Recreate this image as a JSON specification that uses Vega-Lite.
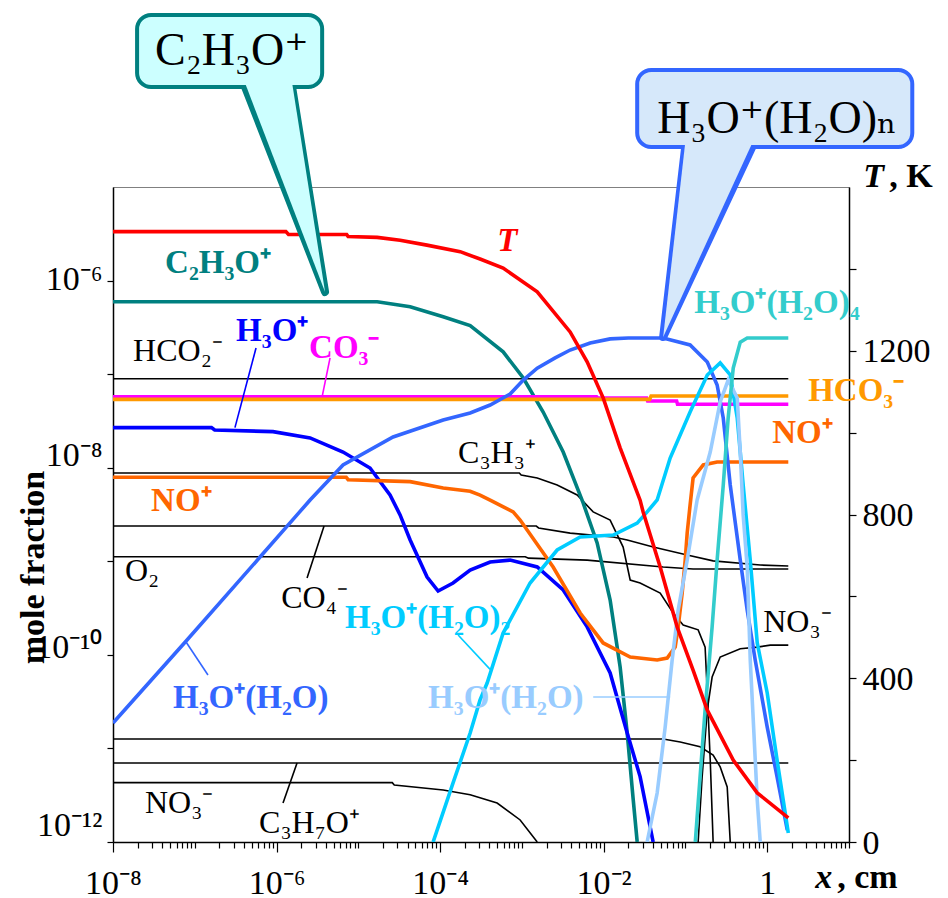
{
  "$schema": "https://vega.github.io/schema/vega-lite/v6.json",
  "width": 736,
  "height": 655,
  "autosize": {"type": "none"},
  "padding": {"left": 113, "top": 187, "right": 99, "bottom": 56},
  "background": "white",
  "config": {
    "font": "Liberation Serif",
    "view": {"stroke": "#808080", "strokeWidth": 1},
    "axis": {"grid": false, "domainColor": "black", "tickColor": "black", "labelColor": "black", "titleColor": "black", "domainWidth": 1.5, "tickWidth": 1.2, "labelOverlap": false, "labelFlush": false}
  },
  "datasets": {
    "curves": [
      {"s": "HCO2-", "x": 1e-8, "y": 8.93e-8}, {"s": "HCO2-", "x": 1.81, "y": 8.93e-8},
      {"s": "C3H3+", "x": 1e-8, "y": 8.79e-9}, {"s": "C3H3+", "x": 9.3e-4, "y": 8.79e-9}, {"s": "C3H3+", "x": 9.8e-4, "y": 8.36e-9}, {"s": "C3H3+", "x": 1.54e-3, "y": 7.76e-9}, {"s": "C3H3+", "x": 2.7e-3, "y": 6.53e-9}, {"s": "C3H3+", "x": 4.74e-3, "y": 5.11e-9}, {"s": "C3H3+", "x": 7.44e-3, "y": 3.37e-9}, {"s": "C3H3+", "x": 1.2e-2, "y": 2.76e-9}, {"s": "C3H3+", "x": 1.73e-2, "y": 1.42e-9}, {"s": "C3H3+", "x": 2.11e-2, "y": 6.31e-10}, {"s": "C3H3+", "x": 2.79e-2, "y": 5.86e-10}, {"s": "C3H3+", "x": 4.91e-2, "y": 4.58e-10}, {"s": "C3H3+", "x": 7.08e-2, "y": 2.8e-10}, {"s": "C3H3+", "x": 9.38e-2, "y": 2.08e-10}, {"s": "C3H3+", "x": 0.143, "y": 1.85e-10}, {"s": "C3H3+", "x": 0.174, "y": 1.21e-10}, {"s": "C3H3+", "x": 0.185, "y": 3.91e-11}, {"s": "C3H3+", "x": 0.201, "y": 7.52e-12}, {"s": "C3H3+", "x": 0.218, "y": 1e-12},
      {"s": "CO4-", "x": 1e-8, "y": 2.38e-9}, {"s": "CO4-", "x": 1.5e-3, "y": 2.38e-9}, {"s": "CO4-", "x": 1.6e-3, "y": 2.27e-9}, {"s": "CO4-", "x": 3.89e-3, "y": 2.0e-9}, {"s": "CO4-", "x": 1.31e-2, "y": 1.82e-9}, {"s": "CO4-", "x": 1.94e-2, "y": 1.69e-9}, {"s": "CO4-", "x": 4.03e-2, "y": 1.42e-9}, {"s": "CO4-", "x": 0.105, "y": 1.17e-9}, {"s": "CO4-", "x": 0.218, "y": 1.01e-9}, {"s": "CO4-", "x": 0.821, "y": 9.12e-10}, {"s": "CO4-", "x": 1.81, "y": 8.91e-10},
      {"s": "O2", "x": 1e-8, "y": 1.12e-9}, {"s": "O2", "x": 1.1e-3, "y": 1.12e-9}, {"s": "O2", "x": 1.2e-3, "y": 1.08e-9}, {"s": "O2", "x": 6.28e-3, "y": 1.03e-9}, {"s": "O2", "x": 5.34e-2, "y": 8.69e-10}, {"s": "O2", "x": 0.124, "y": 8.28e-10}, {"s": "O2", "x": 1.81, "y": 8.28e-10},
      {"s": "other", "x": 1e-8, "y": 1.26e-11}, {"s": "other", "x": 5.34e-2, "y": 1.26e-11}, {"s": "other", "x": 8.63e-2, "y": 1.17e-11}, {"s": "other", "x": 0.151, "y": 1.04e-11}, {"s": "other", "x": 0.218, "y": 8.51e-12}, {"s": "other", "x": 0.266, "y": 6.34e-12}, {"s": "other", "x": 0.324, "y": 3.87e-12}, {"s": "other", "x": 0.353, "y": 1e-12},
      {"s": "C3H7O+", "x": 1e-8, "y": 6.98e-12}, {"s": "C3H7O+", "x": 1.81, "y": 6.98e-12},
      {"s": "NO3-", "x": 1e-8, "y": 4.31e-12}, {"s": "NO3-", "x": 2.6e-5, "y": 4.31e-12}, {"s": "NO3-", "x": 2.75e-5, "y": 4.06e-12}, {"s": "NO3-", "x": 1.09e-4, "y": 3.6e-12}, {"s": "NO3-", "x": 2.33e-4, "y": 3.2e-12}, {"s": "NO3-", "x": 4.98e-4, "y": 2.61e-12}, {"s": "NO3-", "x": 9.52e-4, "y": 1.72e-12}, {"s": "NO3-", "x": 1.54e-3, "y": 1e-12},
      {"s": "NO3-b", "x": 0.143, "y": 1e-12}, {"s": "NO3-b", "x": 0.16, "y": 4.96e-12}, {"s": "NO3-b", "x": 0.185, "y": 2.58e-11}, {"s": "NO3-b", "x": 0.212, "y": 5.79e-11}, {"s": "NO3-b", "x": 0.266, "y": 9.48e-11}, {"s": "NO3-b", "x": 0.468, "y": 1.16e-10}, {"s": "NO3-b", "x": 0.755, "y": 1.21e-10}, {"s": "NO3-b", "x": 1.09, "y": 1.27e-10}, {"s": "NO3-b", "x": 1.81, "y": 1.27e-10},
      {"s": "C2H3O+", "x": 1e-8, "y": 5.94e-7}, {"s": "C2H3O+", "x": 1.7e-5, "y": 5.94e-7}, {"s": "C2H3O+", "x": 4.3e-5, "y": 5.26e-7}, {"s": "C2H3O+", "x": 1.09e-4, "y": 4.11e-7}, {"s": "C2H3O+", "x": 2.33e-4, "y": 3.3e-7}, {"s": "C2H3O+", "x": 5.9e-4, "y": 1.73e-7}, {"s": "C2H3O+", "x": 1.04e-3, "y": 9.1e-8}, {"s": "C2H3O+", "x": 1.82e-3, "y": 3.94e-8}, {"s": "C2H3O+", "x": 3.2e-3, "y": 1.47e-8}, {"s": "C2H3O+", "x": 5.61e-3, "y": 4.2e-9}, {"s": "C2H3O+", "x": 8.32e-3, "y": 1.57e-9}, {"s": "C2H3O+", "x": 1.2e-2, "y": 3.85e-10}, {"s": "C2H3O+", "x": 1.59e-2, "y": 7.41e-11}, {"s": "C2H3O+", "x": 1.94e-2, "y": 1.46e-11}, {"s": "C2H3O+", "x": 2.3e-2, "y": 2.81e-12}, {"s": "C2H3O+", "x": 2.57e-2, "y": 1e-12},
      {"s": "H3O+", "x": 1e-8, "y": 2.68e-8}, {"s": "H3O+", "x": 1.6e-7, "y": 2.68e-8}, {"s": "H3O+", "x": 1.75e-7, "y": 2.53e-8}, {"s": "H3O+", "x": 9.05e-7, "y": 2.43e-8}, {"s": "H3O+", "x": 2.57e-6, "y": 2.08e-8}, {"s": "H3O+", "x": 6.5e-6, "y": 1.47e-8}, {"s": "H3O+", "x": 1.39e-5, "y": 9.93e-9}, {"s": "H3O+", "x": 2.44e-5, "y": 5.11e-9}, {"s": "H3O+", "x": 3.24e-5, "y": 3.13e-9}, {"s": "H3O+", "x": 4.3e-5, "y": 1.69e-9}, {"s": "H3O+", "x": 6.93e-5, "y": 6.79e-10}, {"s": "H3O+", "x": 9.45e-5, "y": 4.81e-10}, {"s": "H3O+", "x": 1.44e-4, "y": 5.86e-10}, {"s": "H3O+", "x": 2.33e-4, "y": 8.07e-10}, {"s": "H3O+", "x": 4.09e-4, "y": 9.82e-10}, {"s": "H3O+", "x": 7.18e-4, "y": 1.03e-9}, {"s": "H3O+", "x": 1.54e-3, "y": 8.69e-10}, {"s": "H3O+", "x": 3.2e-3, "y": 4.93e-10}, {"s": "H3O+", "x": 6.28e-3, "y": 1.99e-10}, {"s": "H3O+", "x": 1.2e-2, "y": 6.4e-11}, {"s": "H3O+", "x": 1.94e-2, "y": 1.46e-11}, {"s": "H3O+", "x": 2.79e-2, "y": 5e-12}, {"s": "H3O+", "x": 4.03e-2, "y": 1e-12},
      {"s": "CO3-", "x": 1e-8, "y": 5.74e-8}, {"s": "CO3-", "x": 8.2e-3, "y": 5.74e-8}, {"s": "CO3-", "x": 8.5e-3, "y": 5.56e-8}, {"s": "CO3-", "x": 3.35e-2, "y": 5.56e-8}, {"s": "CO3-", "x": 3.45e-2, "y": 5.16e-8}, {"s": "CO3-", "x": 7.8e-2, "y": 5.16e-8}, {"s": "CO3-", "x": 8.0e-2, "y": 4.77e-8}, {"s": "CO3-", "x": 1.81, "y": 4.77e-8},
      {"s": "HCO3-", "x": 1e-8, "y": 5.38e-8}, {"s": "HCO3-", "x": 3.65e-2, "y": 5.38e-8}, {"s": "HCO3-", "x": 3.8e-2, "y": 5.83e-8}, {"s": "HCO3-", "x": 1.81, "y": 5.83e-8},
      {"s": "NO+", "x": 1e-8, "y": 7.91e-9}, {"s": "NO+", "x": 7.1e-6, "y": 7.91e-9}, {"s": "NO+", "x": 7.5e-6, "y": 7.45e-9}, {"s": "NO+", "x": 4.3e-5, "y": 7.1e-9}, {"s": "NO+", "x": 1.09e-4, "y": 6.07e-9}, {"s": "NO+", "x": 2.33e-4, "y": 5.6e-9}, {"s": "NO+", "x": 3.08e-4, "y": 5.1e-9}, {"s": "NO+", "x": 4.09e-4, "y": 4.5e-9}, {"s": "NO+", "x": 7.82e-4, "y": 3.37e-9}, {"s": "NO+", "x": 9.52e-4, "y": 2.76e-9}, {"s": "NO+", "x": 2.41e-3, "y": 8.69e-10}, {"s": "NO+", "x": 5.16e-3, "y": 2.8e-10}, {"s": "NO+", "x": 9.86e-3, "y": 1.34e-10}, {"s": "NO+", "x": 2.11e-2, "y": 9.48e-11}, {"s": "NO+", "x": 4.51e-2, "y": 8.81e-11}, {"s": "NO+", "x": 5.98e-2, "y": 9.25e-11}, {"s": "NO+", "x": 7.49e-2, "y": 1.21e-10}, {"s": "NO+", "x": 8.15e-2, "y": 1.99e-10}, {"s": "NO+", "x": 9.12e-2, "y": 4.58e-10}, {"s": "NO+", "x": 9.93e-2, "y": 1.03e-9}, {"s": "NO+", "x": 0.105, "y": 2.0e-9}, {"s": "NO+", "x": 0.114, "y": 4.0e-9}, {"s": "NO+", "x": 0.124, "y": 7.76e-9}, {"s": "NO+", "x": 0.165, "y": 1.07e-8}, {"s": "NO+", "x": 0.244, "y": 1.15e-8}, {"s": "NO+", "x": 1.81, "y": 1.15e-8},
      {"s": "H3O+(H2O)", "x": 1e-8, "y": 1.87e-11}, {"s": "H3O+(H2O)", "x": 8.04e-8, "y": 1.44e-10}, {"s": "H3O+(H2O)", "x": 6.28e-7, "y": 1.11e-9}, {"s": "H3O+(H2O)", "x": 1.78e-6, "y": 3.13e-9}, {"s": "H3O+(H2O)", "x": 2.57e-6, "y": 4.52e-9}, {"s": "H3O+(H2O)", "x": 6.5e-6, "y": 1.07e-8}, {"s": "H3O+(H2O)", "x": 2.66e-5, "y": 2.13e-8}, {"s": "H3O+(H2O)", "x": 1.09e-4, "y": 3.24e-8}, {"s": "H3O+(H2O)", "x": 2.33e-4, "y": 3.85e-8}, {"s": "H3O+(H2O)", "x": 4.09e-4, "y": 4.68e-8}, {"s": "H3O+(H2O)", "x": 7.18e-4, "y": 6.14e-8}, {"s": "H3O+(H2O)", "x": 1.04e-3, "y": 8.65e-8}, {"s": "H3O+(H2O)", "x": 1.54e-3, "y": 1.16e-7}, {"s": "H3O+(H2O)", "x": 2.55e-3, "y": 1.49e-7}, {"s": "H3O+(H2O)", "x": 3.89e-3, "y": 1.81e-7}, {"s": "H3O+(H2O)", "x": 6.84e-3, "y": 2.15e-7}, {"s": "H3O+(H2O)", "x": 1.2e-2, "y": 2.38e-7}, {"s": "H3O+(H2O)", "x": 2.0e-2, "y": 2.43e-7}, {"s": "H3O+(H2O)", "x": 5.34e-2, "y": 2.43e-7}, {"s": "H3O+(H2O)", "x": 0.114, "y": 2.05e-7}, {"s": "H3O+(H2O)", "x": 0.185, "y": 1.35e-7}, {"s": "H3O+(H2O)", "x": 0.244, "y": 7.66e-8}, {"s": "H3O+(H2O)", "x": 0.29, "y": 3.4e-8}, {"s": "H3O+(H2O)", "x": 0.353, "y": 6.53e-9}, {"s": "H3O+(H2O)", "x": 0.468, "y": 1.03e-9}, {"s": "H3O+(H2O)", "x": 0.569, "y": 3.01e-10}, {"s": "H3O+(H2O)", "x": 0.713, "y": 8.81e-11}, {"s": "H3O+(H2O)", "x": 1.0, "y": 1.69e-11}, {"s": "H3O+(H2O)", "x": 1.32, "y": 4.96e-12}, {"s": "H3O+(H2O)", "x": 1.76, "y": 1.34e-12},
      {"s": "H3O+(H2O)2", "x": 8.21e-5, "y": 1e-12}, {"s": "H3O+(H2O)2", "x": 1.44e-4, "y": 4.28e-12}, {"s": "H3O+(H2O)2", "x": 2.33e-4, "y": 1.46e-11}, {"s": "H3O+(H2O)2", "x": 3.08e-4, "y": 3.3e-11}, {"s": "H3O+(H2O)2", "x": 3.76e-4, "y": 5.0e-11}, {"s": "H3O+(H2O)2", "x": 5.9e-4, "y": 1.71e-10}, {"s": "H3O+(H2O)2", "x": 1.26e-3, "y": 5.86e-10}, {"s": "H3O+(H2O)2", "x": 2.7e-3, "y": 1.32e-9}, {"s": "H3O+(H2O)2", "x": 5.16e-3, "y": 1.82e-9}, {"s": "H3O+(H2O)2", "x": 1.31e-2, "y": 1.91e-9}, {"s": "H3O+(H2O)2", "x": 2.57e-2, "y": 2.56e-9}, {"s": "H3O+(H2O)2", "x": 3.4e-2, "y": 3.37e-9}, {"s": "H3O+(H2O)2", "x": 4.51e-2, "y": 4.52e-9}, {"s": "H3O+(H2O)2", "x": 6.5e-2, "y": 1.27e-8}, {"s": "H3O+(H2O)2", "x": 0.114, "y": 3.94e-8}, {"s": "H3O+(H2O)2", "x": 0.185, "y": 9.8e-8}, {"s": "H3O+(H2O)2", "x": 0.266, "y": 1.32e-7}, {"s": "H3O+(H2O)2", "x": 0.353, "y": 9.8e-8}, {"s": "H3O+(H2O)2", "x": 0.43, "y": 3.4e-8}, {"s": "H3O+(H2O)2", "x": 0.508, "y": 6.53e-9}, {"s": "H3O+(H2O)2", "x": 0.62, "y": 1.03e-9}, {"s": "H3O+(H2O)2", "x": 0.755, "y": 1.34e-10}, {"s": "H3O+(H2O)2", "x": 1.0, "y": 3.91e-11}, {"s": "H3O+(H2O)2", "x": 1.32, "y": 7.52e-12}, {"s": "H3O+(H2O)2", "x": 1.81, "y": 1.25e-12},
      {"s": "H3O+(H2O)3", "x": 3.4e-2, "y": 1e-12}, {"s": "H3O+(H2O)3", "x": 4.51e-2, "y": 3.34e-12}, {"s": "H3O+(H2O)3", "x": 5.65e-2, "y": 1.69e-11}, {"s": "H3O+(H2O)3", "x": 6.88e-2, "y": 8.81e-11}, {"s": "H3O+(H2O)3", "x": 8.15e-2, "y": 3.01e-10}, {"s": "H3O+(H2O)3", "x": 0.105, "y": 1.03e-9}, {"s": "H3O+(H2O)3", "x": 0.139, "y": 4.52e-9}, {"s": "H3O+(H2O)3", "x": 0.201, "y": 1.47e-8}, {"s": "H3O+(H2O)3", "x": 0.266, "y": 5.04e-8}, {"s": "H3O+(H2O)3", "x": 0.333, "y": 8.65e-8}, {"s": "H3O+(H2O)3", "x": 0.43, "y": 5.56e-8}, {"s": "H3O+(H2O)3", "x": 0.468, "y": 1.47e-8}, {"s": "H3O+(H2O)3", "x": 0.508, "y": 3.13e-9}, {"s": "H3O+(H2O)3", "x": 0.569, "y": 8.69e-10}, {"s": "H3O+(H2O)3", "x": 0.62, "y": 8.81e-11}, {"s": "H3O+(H2O)3", "x": 0.656, "y": 3.3e-11}, {"s": "H3O+(H2O)3", "x": 0.755, "y": 2.81e-12}, {"s": "H3O+(H2O)3", "x": 0.821, "y": 1e-12},
      {"s": "H3O+(H2O)4", "x": 0.132, "y": 1e-12}, {"s": "H3O+(H2O)4", "x": 0.151, "y": 4.96e-12}, {"s": "H3O+(H2O)4", "x": 0.174, "y": 2.58e-11}, {"s": "H3O+(H2O)4", "x": 0.212, "y": 1.99e-10}, {"s": "H3O+(H2O)4", "x": 0.244, "y": 1.03e-9}, {"s": "H3O+(H2O)4", "x": 0.29, "y": 6.53e-9}, {"s": "H3O+(H2O)4", "x": 0.333, "y": 3.4e-8}, {"s": "H3O+(H2O)4", "x": 0.384, "y": 1.16e-7}, {"s": "H3O+(H2O)4", "x": 0.468, "y": 2.2e-7}, {"s": "H3O+(H2O)4", "x": 0.569, "y": 2.43e-7}, {"s": "H3O+(H2O)4", "x": 1.81, "y": 2.43e-7}
    ],
    "temperature": [
      {"x": 1e-8, "T": 1491}, {"x": 1.3e-6, "T": 1491}, {"x": 1.4e-6, "T": 1484}, {"x": 7.2e-6, "T": 1484}, {"x": 7.5e-6, "T": 1479}, {"x": 1.7e-5, "T": 1477}, {"x": 3.24e-5, "T": 1470}, {"x": 6.9e-5, "T": 1458}, {"x": 1.76e-4, "T": 1442}, {"x": 3.08e-4, "T": 1424}, {"x": 5.9e-4, "T": 1402}, {"x": 1.54e-3, "T": 1344}, {"x": 3.89e-3, "T": 1246}, {"x": 6.28e-3, "T": 1173}, {"x": 9.86e-3, "T": 1085}, {"x": 1.59e-2, "T": 963}, {"x": 2.79e-2, "T": 835}, {"x": 3.04e-2, "T": 806}, {"x": 4.91e-2, "T": 672}, {"x": 7.93e-2, "T": 525}, {"x": 0.124, "T": 420}, {"x": 0.185, "T": 322}, {"x": 0.384, "T": 200}, {"x": 0.755, "T": 120}, {"x": 1.81, "T": 59}
    ],
    "labels": [
      {"s": "C2H3O+", "t": "C₂H₃O⁺", "x": 4.33e-8, "y": 1.21e-6},
      {"s": "H3O+", "t": "H₃O⁺", "x": 3.2e-7, "y": 2.26e-7},
      {"s": "CO3-", "t": "CO₃⁻", "x": 2.5e-6, "y": 1.49e-7},
      {"s": "NO+", "t": "NO⁺", "x": 2.92e-8, "y": 3.44e-9},
      {"s": "H3O+(H2O)2", "t": "H₃O⁺(H₂O)₂", "x": 6.88e-6, "y": 1.94e-10},
      {"s": "H3O+(H2O)", "t": "H₃O⁺(H₂O)", "x": 5.42e-8, "y": 2.7e-11},
      {"s": "H3O+(H2O)3", "t": "H₃O⁺(H₂O)", "x": 7.13e-5, "y": 2.7e-11},
      {"s": "H3O+(H2O)4", "t": "H₃O⁺(H₂O)₄", "x": 0.128, "y": 4.5e-7},
      {"s": "HCO3-", "t": "HCO₃⁻", "x": 3.17, "y": 5.16e-8},
      {"s": "NO+", "t": "NO⁺", "x": 1.15, "y": 1.84e-8},
      {"s": "HCO2-", "t": "HCO₂⁻", "x": 1.76e-8, "y": 1.38e-7},
      {"s": "C3H3+", "t": "C₃H₃⁺", "x": 1.66e-4, "y": 1.12e-8},
      {"s": "O2", "t": "O₂", "x": 1.4e-8, "y": 6.15e-10},
      {"s": "CO4-", "t": "CO₄⁻", "x": 1.14e-6, "y": 3.17e-10},
      {"s": "NO3-b", "t": "NO₃⁻", "x": 0.893, "y": 1.75e-10},
      {"s": "NO3-", "t": "NO₃⁻", "x": 2.46e-8, "y": 2.04e-12},
      {"s": "C3H7O+", "t": "C₃H₇O⁺", "x": 6.11e-7, "y": 1.25e-12}
    ],
    "leaders": [
      {"s": "H3O+", "x": 5.61e-7, "y": 1.9e-7, "x2": 3.1e-7, "y2": 2.68e-8},
      {"s": "CO3-", "x": 4.51e-6, "y": 1.49e-7, "x2": 3.61e-6, "y2": 5.74e-8},
      {"s": "CO4-", "x": 2.36e-6, "y": 6.62e-10, "x2": 3.81e-6, "y2": 2.38e-9},
      {"s": "H3O+(H2O)2", "x": 1.66e-4, "y": 1.63e-10, "x2": 4.09e-4, "y2": 7e-11},
      {"s": "H3O+(H2O)", "x": 1.45e-7, "y": 6.09e-11, "x2": 7.82e-8, "y2": 1.37e-10},
      {"s": "H3O+(H2O)3", "x": 7.45e-3, "y": 3.55e-11, "x2": 6.5e-2, "y2": 3.55e-11},
      {"s": "C3H7O+", "x": 1.2e-6, "y": 2.61e-12, "x2": 1.78e-6, "y2": 6.98e-12}
    ],
    "bubbles": [
      {"b": "A", "x": 1.97e-8, "x2": 3.61e-6, "y": 6.89e-4, "y2": 1.17e-4, "t": "C₂H₃O⁺", "tx": 3.27e-8, "ty": 2.01e-4},
      {"b": "B", "x": 2.57e-2, "x2": 59.4, "y": 1.78e-4, "y2": 2.68e-5, "t": "H₃O⁺(H₂O)ₙ", "tx": 4.51e-2, "ty": 3.78e-5}
    ],
    "tails": [
      {"b": "A", "y": 1.17e-4, "x": 4.12e-7, "x2": 1.55e-6},
      {"b": "A", "y": 7.55e-7, "x": 3.92e-6, "x2": 3.92e-6},
      {"b": "B", "y": 2.68e-5, "x": 9.93e-2, "x2": 0.656},
      {"b": "B", "y": 2.49e-7, "x": 5.34e-2, "x2": 5.34e-2}
    ],
    "tailFill": [
      {"b": "A", "y": 1.29e-4, "x": 4.12e-7, "x2": 1.55e-6},
      {"b": "A", "y": 7.55e-7, "x": 3.92e-6, "x2": 3.92e-6},
      {"b": "B", "y": 2.95e-5, "x": 9.93e-2, "x2": 0.656},
      {"b": "B", "y": 2.49e-7, "x": 5.34e-2, "x2": 5.34e-2}
    ],
    "axisTitlesItalic": [
      {"t": "x", "x": 3.86, "y": 3.22e-13},
      {"t": "T", "x": 14.9, "y": 1e-5}
    ],
    "axisTitlesUpright": [
      {"t": ", cm", "x": 7.18, "y": 3.22e-13},
      {"t": ", K", "x": 31.1, "y": 1e-5}
    ],
    "tLabel": [
      {"t": "T", "x": 4.98e-4, "y": 2.07e-6}
    ]
  },
  "layer": [
    {
      "data": {"name": "curves"},
      "transform": [{"filter": "datum.s === 'HCO2-' || datum.s === 'C3H3+' || datum.s === 'CO4-' || datum.s === 'O2' || datum.s === 'other' || datum.s === 'C3H7O+' || datum.s === 'NO3-' || datum.s === 'NO3-b'"}],
      "mark": {"type": "line", "strokeWidth": 1.6, "clip": true},
      "encoding": {
        "x": {"field": "x", "type": "quantitative", "scale": {"type": "log", "domain": [1e-8, 10]},
          "axis": {
            "orient": "bottom",
            "values": [1e-8,2e-8,3e-8,4e-8,5e-8,6e-8,7e-8,8e-8,9e-8,1e-7,2e-7,3e-7,4e-7,5e-7,6e-7,7e-7,8e-7,9e-7,1e-6,2e-6,3e-6,4e-6,5e-6,6e-6,7e-6,8e-6,9e-6,1e-5,2e-5,3e-5,4e-5,5e-5,6e-5,7e-5,8e-5,9e-5,1e-4,2e-4,3e-4,4e-4,5e-4,6e-4,7e-4,8e-4,9e-4,1e-3,2e-3,3e-3,4e-3,5e-3,6e-3,7e-3,8e-3,9e-3,1e-2,2e-2,3e-2,4e-2,5e-2,6e-2,7e-2,8e-2,9e-2,0.1,0.2,0.3,0.4,0.5,0.6,0.7,0.8,0.9,1,2,3,4,5,6,7,8,9,10],
            "labelExpr": "datum.value === 1e-8 ? '10⁻⁸' : datum.value === 1e-6 ? '10⁻⁶' : datum.value === 1e-4 ? '10⁻⁴' : datum.value === 1e-2 ? '10⁻²' : datum.value === 1 ? '1' : ''",
            "tickSize": {"condition": {"test": "datum.value === 1e-8 || datum.value === 1e-6 || datum.value === 1e-4 || datum.value === 1e-2 || datum.value === 1", "value": 10}, "value": 6},
            "labelFontSize": 34,
            "labelBaseline": "alphabetic",
            "labelPadding": 41,
            "title": null
          }
        },
        "y": {"field": "y", "type": "quantitative", "scale": {"type": "log", "domain": [1e-12, 1e-5]},
          "axis": {
            "orient": "left",
            "values": [1e-12, 1e-11, 1e-10, 1e-9, 1e-8, 1e-7, 1e-6],
            "labelExpr": "datum.value === 1e-12 ? '10⁻¹²' : datum.value === 1e-10 ? '10⁻¹⁰' : datum.value === 1e-8 ? '10⁻⁸' : datum.value === 1e-6 ? '10⁻⁶' : ''",
            "tickSize": 6,
            "labelPadding": 5,
            "labelFontSize": 34,
            "labelBaseline": "alphabetic",
            "labelOffset": {"condition": [
              {"test": "datum.value === 1e-6", "value": 9},
              {"test": "datum.value === 1e-8", "value": -2},
              {"test": "datum.value === 1e-10", "value": 3},
              {"test": "datum.value === 1e-12", "value": -7}
            ], "value": 0},
            "title": "mole fraction",
            "titleFontSize": 34,
            "titleFontWeight": "bold",
            "titleAngle": -90,
            "titleBaseline": "alphabetic",
            "titleAlign": "center",
            "titleX": -70,
            "titleY": 380
          }
        },
        "detail": {"field": "s"},
        "color": {"value": "black"}
      }
    },
    {
      "data": {"name": "curves"},
      "transform": [{"filter": "!(datum.s === 'HCO2-' || datum.s === 'C3H3+' || datum.s === 'CO4-' || datum.s === 'O2' || datum.s === 'other' || datum.s === 'C3H7O+' || datum.s === 'NO3-' || datum.s === 'NO3-b')"}],
      "mark": {"type": "line", "strokeWidth": 3.6, "clip": true},
      "encoding": {
        "x": {"field": "x", "type": "quantitative", "scale": {"type": "log", "domain": [1e-8, 10]}},
        "y": {"field": "y", "type": "quantitative", "scale": {"type": "log", "domain": [1e-12, 1e-5]}, "axis": null},
        "color": {"field": "s", "type": "nominal", "legend": null,
          "scale": {"domain": ["C2H3O+","H3O+","CO3-","HCO3-","NO+","H3O+(H2O)","H3O+(H2O)2","H3O+(H2O)3","H3O+(H2O)4","HCO2-","C3H3+","CO4-","O2","other","C3H7O+","NO3-","NO3-b"],
                    "range": ["#008080","#0000FF","#FF00FF","#FF9900","#FF6600","#3366FF","#00CCFF","#99CCFF","#33CCCC","#000000","#000000","#000000","#000000","#000000","#000000","#000000","#000000"]}}
      }
    },
    {
      "data": {"name": "temperature"},
      "mark": {"type": "line", "color": "#FF0000", "strokeWidth": 3.6, "clip": true},
      "encoding": {
        "x": {"field": "x", "type": "quantitative", "scale": {"type": "log", "domain": [1e-8, 10]}},
        "y": {"field": "T", "type": "quantitative", "scale": {"domain": [0, 1600], "nice": false, "zero": true},
          "axis": {
            "orient": "right",
            "values": [0, 200, 400, 600, 800, 1000, 1200, 1400],
            "format": "d",
            "labelExpr": "datum.value % 400 === 0 ? datum.label : ''",
            "tickSize": 7,
            "labelPadding": 6,
            "labelFontSize": 34,
            "labelBaseline": "alphabetic",
            "labelOffset": 11,
            "title": null
          }
        }
      }
    },
    {
      "data": {"name": "tails"},
      "mark": {"type": "area", "orient": "horizontal", "strokeWidth": 8, "strokeJoin": "round", "clip": false},
      "encoding": {
        "y": {"field": "y", "type": "quantitative", "scale": {"type": "log", "domain": [1e-12, 1e-5]}, "axis": null},
        "x": {"field": "x", "type": "quantitative", "scale": {"type": "log", "domain": [1e-8, 10]}, "stack": null},
        "x2": {"field": "x2"},
        "fill": {"field": "b", "type": "nominal", "legend": null, "scale": {"domain": ["A", "B"], "range": ["#CCFFFF", "#D6E8FA"]}},
        "stroke": {"field": "b", "type": "nominal", "legend": null, "scale": {"domain": ["A", "B"], "range": ["#008080", "#3366FF"]}}
      }
    },
    {
      "data": {"name": "bubbles"},
      "mark": {"type": "rect", "cornerRadius": 14, "strokeWidth": 4, "clip": false},
      "encoding": {
        "x": {"field": "x", "type": "quantitative", "scale": {"type": "log", "domain": [1e-8, 10]}},
        "x2": {"field": "x2"},
        "y": {"field": "y", "type": "quantitative", "scale": {"type": "log", "domain": [1e-12, 1e-5]}, "axis": null},
        "y2": {"field": "y2"},
        "fill": {"field": "b", "type": "nominal", "legend": null, "scale": {"domain": ["A", "B"], "range": ["#CCFFFF", "#D6E8FA"]}},
        "stroke": {"field": "b", "type": "nominal", "legend": null, "scale": {"domain": ["A", "B"], "range": ["#008080", "#3366FF"]}}
      }
    },
    {
      "data": {"name": "tailFill"},
      "mark": {"type": "area", "orient": "horizontal", "clip": false},
      "encoding": {
        "y": {"field": "y", "type": "quantitative", "scale": {"type": "log", "domain": [1e-12, 1e-5]}, "axis": null},
        "x": {"field": "x", "type": "quantitative", "scale": {"type": "log", "domain": [1e-8, 10]}, "stack": null},
        "x2": {"field": "x2"},
        "fill": {"field": "b", "type": "nominal", "legend": null, "scale": {"domain": ["A", "B"], "range": ["#CCFFFF", "#D6E8FA"]}}
      }
    },
    {
      "data": {"name": "bubbles"},
      "mark": {"type": "text", "fontSize": 46, "font": "Liberation Serif, DejaVu Serif, serif", "align": "left", "baseline": "alphabetic", "color": "black", "clip": false},
      "encoding": {
        "x": {"field": "tx", "type": "quantitative", "scale": {"type": "log", "domain": [1e-8, 10]}},
        "y": {"field": "ty", "type": "quantitative", "scale": {"type": "log", "domain": [1e-12, 1e-5]}, "axis": null},
        "text": {"field": "t"}
      }
    },
    {
      "data": {"name": "leaders"},
      "mark": {"type": "rule", "strokeWidth": 1.6, "clip": false},
      "encoding": {
        "x": {"field": "x", "type": "quantitative", "scale": {"type": "log", "domain": [1e-8, 10]}},
        "x2": {"field": "x2"},
        "y": {"field": "y", "type": "quantitative", "scale": {"type": "log", "domain": [1e-12, 1e-5]}, "axis": null},
        "y2": {"field": "y2"},
        "color": {"field": "s", "type": "nominal", "legend": null,
          "scale": {"domain": ["C2H3O+","H3O+","CO3-","HCO3-","NO+","H3O+(H2O)","H3O+(H2O)2","H3O+(H2O)3","H3O+(H2O)4","HCO2-","C3H3+","CO4-","O2","other","C3H7O+","NO3-","NO3-b"],
                    "range": ["#008080","#0000FF","#FF00FF","#FF9900","#FF6600","#3366FF","#00CCFF","#99CCFF","#33CCCC","#000000","#000000","#000000","#000000","#000000","#000000","#000000","#000000"]}}
      }
    },
    {
      "data": {"name": "labels"},
      "transform": [{"filter": "!(datum.s === 'HCO2-' || datum.s === 'C3H3+' || datum.s === 'CO4-' || datum.s === 'O2' || datum.s === 'other' || datum.s === 'C3H7O+' || datum.s === 'NO3-' || datum.s === 'NO3-b')"}],
      "mark": {"type": "text", "fontSize": 33, "fontWeight": "bold", "align": "left", "baseline": "alphabetic", "clip": false},
      "encoding": {
        "x": {"field": "x", "type": "quantitative", "scale": {"type": "log", "domain": [1e-8, 10]}},
        "y": {"field": "y", "type": "quantitative", "scale": {"type": "log", "domain": [1e-12, 1e-5]}, "axis": null},
        "text": {"field": "t"},
        "color": {"field": "s", "type": "nominal", "legend": null,
          "scale": {"domain": ["C2H3O+","H3O+","CO3-","HCO3-","NO+","H3O+(H2O)","H3O+(H2O)2","H3O+(H2O)3","H3O+(H2O)4","HCO2-","C3H3+","CO4-","O2","other","C3H7O+","NO3-","NO3-b"],
                    "range": ["#008080","#0000FF","#FF00FF","#FF9900","#FF6600","#3366FF","#00CCFF","#99CCFF","#33CCCC","#000000","#000000","#000000","#000000","#000000","#000000","#000000","#000000"]}}
      }
    },
    {
      "data": {"name": "labels"},
      "transform": [{"filter": "datum.s === 'HCO2-' || datum.s === 'C3H3+' || datum.s === 'CO4-' || datum.s === 'O2' || datum.s === 'other' || datum.s === 'C3H7O+' || datum.s === 'NO3-' || datum.s === 'NO3-b'"}],
      "mark": {"type": "text", "fontSize": 32, "align": "left", "baseline": "alphabetic", "color": "black", "clip": false},
      "encoding": {
        "x": {"field": "x", "type": "quantitative", "scale": {"type": "log", "domain": [1e-8, 10]}},
        "y": {"field": "y", "type": "quantitative", "scale": {"type": "log", "domain": [1e-12, 1e-5]}, "axis": null},
        "text": {"field": "t"}
      }
    },
    {
      "data": {"name": "tLabel"},
      "mark": {"type": "text", "fontSize": 33, "fontWeight": "bold", "fontStyle": "italic", "align": "left", "baseline": "alphabetic", "color": "#FF0000", "clip": false},
      "encoding": {
        "x": {"field": "x", "type": "quantitative", "scale": {"type": "log", "domain": [1e-8, 10]}},
        "y": {"field": "y", "type": "quantitative", "scale": {"type": "log", "domain": [1e-12, 1e-5]}, "axis": null},
        "text": {"field": "t"}
      }
    },
    {
      "data": {"name": "axisTitlesItalic"},
      "mark": {"type": "text", "fontSize": 34, "fontWeight": "bold", "fontStyle": "italic", "align": "left", "baseline": "alphabetic", "color": "black", "clip": false},
      "encoding": {
        "x": {"field": "x", "type": "quantitative", "scale": {"type": "log", "domain": [1e-8, 10]}},
        "y": {"field": "y", "type": "quantitative", "scale": {"type": "log", "domain": [1e-12, 1e-5]}, "axis": null},
        "text": {"field": "t"}
      }
    },
    {
      "data": {"name": "axisTitlesUpright"},
      "mark": {"type": "text", "fontSize": 34, "fontWeight": "bold", "align": "left", "baseline": "alphabetic", "color": "black", "clip": false},
      "encoding": {
        "x": {"field": "x", "type": "quantitative", "scale": {"type": "log", "domain": [1e-8, 10]}},
        "y": {"field": "y", "type": "quantitative", "scale": {"type": "log", "domain": [1e-12, 1e-5]}, "axis": null},
        "text": {"field": "t"}
      }
    }
  ],
  "resolve": {"scale": {"y": "independent"}}
}
